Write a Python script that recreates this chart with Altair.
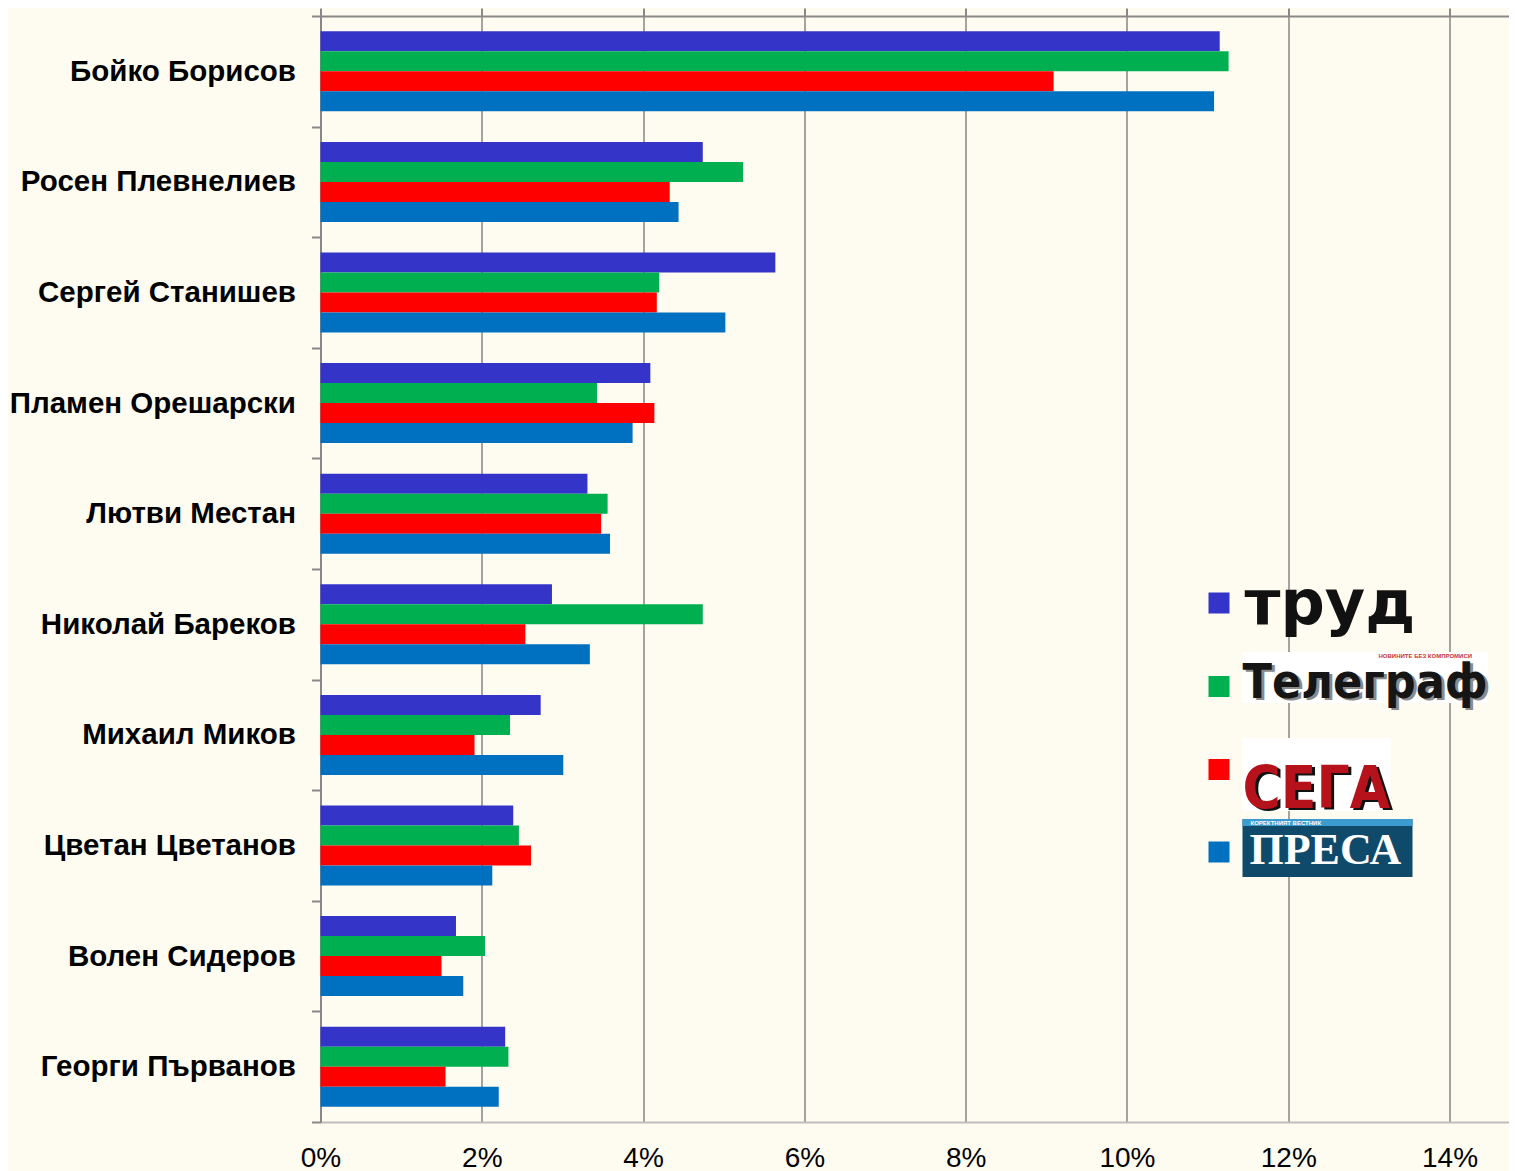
import altair as alt
import pandas as pd

# ---------------- data ----------------
candidates = ["Бойко Борисов", "Росен Плевнелиев", "Сергей Станишев", "Пламен Орешарски",
              "Лютви Местан", "Николай Бареков", "Михаил Миков", "Цветан Цветанов",
              "Волен Сидеров", "Георги Първанов"]
series = ["Труд", "Телеграф", "Сега", "Преса"]
trud = [11.15, 4.74, 5.64, 4.09, 3.31, 2.87, 2.73, 2.39, 1.68, 2.29]
telegraf = [11.26, 5.24, 4.20, 3.43, 3.56, 4.74, 2.35, 2.46, 2.04, 2.33]
sega = [9.09, 4.33, 4.17, 4.14, 3.48, 2.54, 1.91, 2.61, 1.50, 1.55]
presa = [11.08, 4.44, 5.02, 3.87, 3.59, 3.34, 3.01, 2.13, 1.77, 2.21]
colors = ["#3434C8", "#00B050", "#FF0000", "#0070C0"]
tick_values = [0, 0.02, 0.04, 0.06, 0.08, 0.10, 0.12, 0.14]

rows = []
for s, vals in zip(series, [trud, telegraf, sega, presa]):
    for c, v in zip(candidates, vals):
        rows.append({"candidate": c, "series": s, "value": v / 100})
df = pd.DataFrame(rows)
ticks_df = pd.DataFrame({"v": tick_values})
one = pd.DataFrame({"k": [0]})

W, H = 1188.5, 1106
x_scale = alt.Scale(domain=[0, 0.14737], nice=False, zero=True)
color_scale = alt.Scale(domain=series, range=colors)
FONT = "Liberation Sans"

bars = alt.Chart(df).mark_bar().encode(
    x=alt.X("value:Q", scale=x_scale,
            axis=alt.Axis(orient="bottom", values=tick_values, format=".0%", title=None,
                          labelFont=FONT, labelFontSize=28, labelColor="black",
                          labelPadding=22, labelFlush=False, ticks=False,
                          domainColor="#bdbdbd", domainWidth=2,
                          grid=True, gridColor="#8c8c8c", gridWidth=1.6)),
    y=alt.Y("candidate:N", sort=candidates,
            scale=alt.Scale(paddingInner=0, paddingOuter=0),
            axis=alt.Axis(title=None, tickBand="extent", tickSize=9, tickWidth=2,
                          tickColor="#888888", domainColor="#888888", domainWidth=2,
                          labelFont=FONT, labelFontSize=29.5, labelFontWeight="bold",
                          labelColor="black", labelPadding=16, labelLimit=0, grid=False)),
    yOffset=alt.YOffset("series:N", sort=series,
                        scale=alt.Scale(paddingInner=0, paddingOuter=0.765)),
    color=alt.Color("series:N", scale=color_scale, legend=None),
)

top_axis = alt.Chart(ticks_df).mark_rule(opacity=0).encode(
    x=alt.X("v:Q", scale=x_scale,
            axis=alt.Axis(orient="top", values=tick_values, labels=False, title=None,
                          ticks=True, tickSize=8, tickWidth=2, tickColor="#888888",
                          domainColor="#888888", domainWidth=2, grid=False))
)

layers = [bars, top_axis]

# ---------------- custom legend (newspaper logos rendered as text) ----------------
sq_x = 898.5
sq_y = [587, 670.5, 753.5, 836]
for s, yy in zip(series, sq_y):
    layers.append(alt.Chart(pd.DataFrame({"series": [s]})).mark_square(size=441, opacity=1).encode(
        x=alt.value(sq_x), y=alt.value(yy),
        color=alt.Color("series:N", scale=color_scale, legend=None)))

def rect(x1, x2, y1, y2, color):
    return alt.Chart(one).mark_rect(color=color).encode(
        x=alt.value(x1), x2=alt.value(x2), y=alt.value(y1), y2=alt.value(y2))

def text(t, x, y, size, color, font=FONT, weight="bold", baseline="alphabetic"):
    return alt.Chart(one).mark_text(text=t, font=font, fontSize=size, fontWeight=weight,
                                    color=color, align="left", baseline=baseline).encode(
        x=alt.value(x), y=alt.value(y))

COND = "DejaVu Sans Condensed, Liberation Sans"
# Труд
layers.append(text("труд", 924, 608, 62, "#111111", font="DejaVu Sans", weight="bold"))
# Телеграф
layers.append(rect(922, 1167, 636, 687, "#ffffff"))
layers.append(text("НОВИНИТЕ БЕЗ КОМПРОМИСИ", 1058, 642, 6, "#cc3333", weight="bold"))
layers.append(text("Телеграф", 925, 684, 48, "#8a8a8a", font=COND))
layers.append(text("Телеграф", 922, 682, 48, "#151515", font=COND))
# Сега
layers.append(rect(922, 1070, 722, 795, "#ffffff"))
layers.append(text("СЕГА", 925, 794, 58, "#111111", font=COND))
layers.append(text("СЕГА", 922, 792, 58, "#B5121B", font=COND))
# Преса
layers.append(rect(922, 1092, 803, 861, "#0F4A6B"))
layers.append(rect(922, 1092, 803, 810, "#3D9CCF"))
layers.append(text("КОРЕКТНИЯТ ВЕСТНИК", 930, 809, 6, "#ffffff"))
layers.append(text("ПРЕСА", 929, 848, 44, "#ffffff", font="Liberation Serif"))

chart = alt.layer(*layers).resolve_axis(x="independent").properties(
    width=W, height=H,
    background="#FEFCF0",
    autosize=alt.AutoSizeParams(type="none"),
    padding={"left": 312.5, "top": 8, "right": 0, "bottom": 49},
).configure_view(stroke=None)

chart.save("out.html", embed_options={"renderer": "svg", "actions": False})
